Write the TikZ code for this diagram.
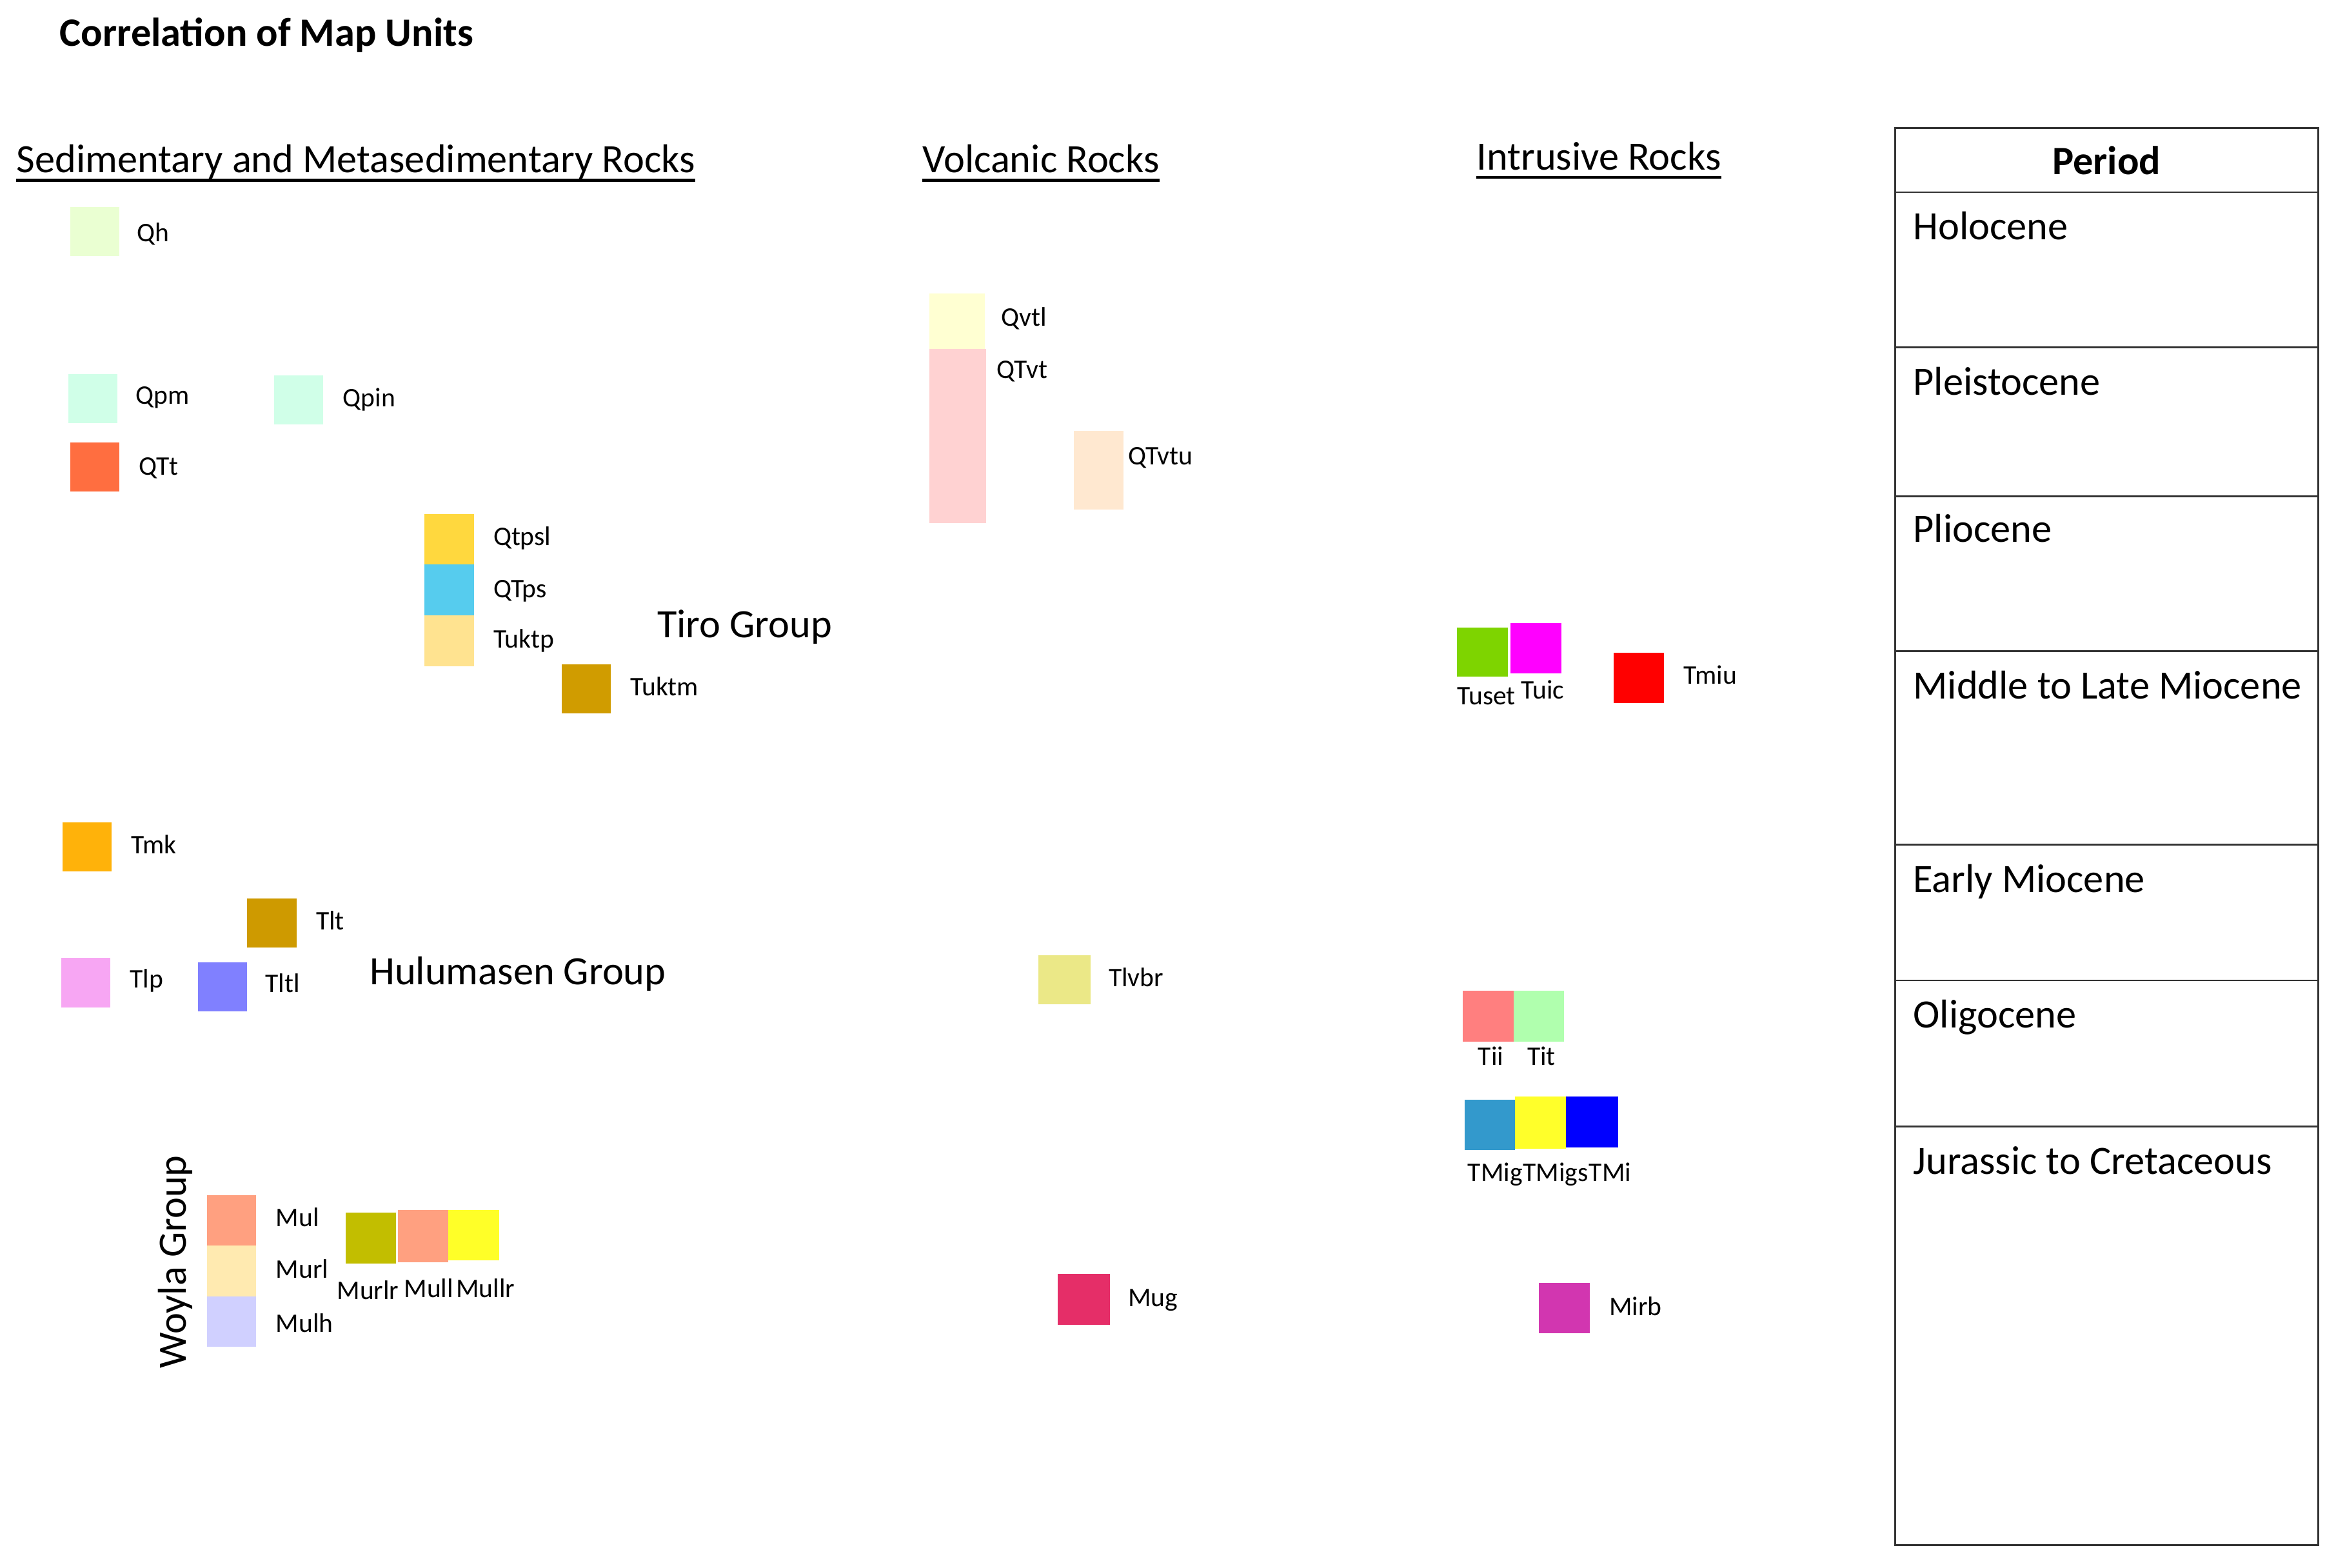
\documentclass[tikz,border=0pt]{standalone}
\usepackage{fontspec}
\setmainfont{Carlito}
\definecolor{cQh}{HTML}{EAFFD2}
\definecolor{cQpm}{HTML}{D0FFE8}
\definecolor{cQTt}{HTML}{FF6E40}
\definecolor{cQtpsl}{HTML}{FFD83E}
\definecolor{cQTps}{HTML}{56CCEE}
\definecolor{cTuktp}{HTML}{FFE390}
\definecolor{cTuktm}{HTML}{D09C00}
\definecolor{cTmk}{HTML}{FFB20A}
\definecolor{cTlt}{HTML}{CE9A00}
\definecolor{cTlp}{HTML}{F7A6F3}
\definecolor{cTltl}{HTML}{8080FF}
\definecolor{cMul}{HTML}{FFA080}
\definecolor{cMurl}{HTML}{FFEAB0}
\definecolor{cMulh}{HTML}{D0D0FF}
\definecolor{cMurlr}{HTML}{C2BE00}
\definecolor{cMullr}{HTML}{FFFF28}
\definecolor{cQvtl}{HTML}{FFFFD2}
\definecolor{cQTvt}{HTML}{FFD2D2}
\definecolor{cQTvtu}{HTML}{FFE8D0}
\definecolor{cTlvbr}{HTML}{EBE887}
\definecolor{cMug}{HTML}{E52E68}
\definecolor{cTuset}{HTML}{7ED400}
\definecolor{cTuic}{HTML}{FF00FF}
\definecolor{cTmiu}{HTML}{FF0000}
\definecolor{cTii}{HTML}{FF7F7F}
\definecolor{cTit}{HTML}{B0FFAE}
\definecolor{cTMig}{HTML}{3399CC}
\definecolor{cTMigs}{HTML}{FFFF2A}
\definecolor{cTMi}{HTML}{0000FF}
\definecolor{cMirb}{HTML}{D236B0}
\definecolor{tline}{HTML}{333333}
\begin{document}
\begin{tikzpicture}[x=1pt,y=-1pt,
  ubox/.style={draw=none,inner sep=0,outer sep=0,anchor=north west},
  ulab/.style={anchor=base west,inner sep=0,font=\fontsize{18}{21}\selectfont},
  grp/.style={anchor=base west,inner sep=0,font=\fontsize{27}{32}\selectfont},
  head/.style={anchor=base west,inner sep=0,font=\fontsize{27}{32}\selectfont},
  per/.style={anchor=base west,inner sep=0,font=\fontsize{27}{32}\selectfont},
  uline/.style={line width=2pt}]
\useasboundingbox (0,0) rectangle (1568,1052);
\fill[white] (0,0) rectangle (1568,1052);

% title and headings
\node[anchor=base west,inner sep=0,font=\fontsize{27}{32}\selectfont\bfseries] (title) at (40,31) {Correlation of Map Units};
\node[head] (sed) at (11,116) {Sedimentary and Metasedimentary Rocks};
\node[head] (volc) at (619,116) {Volcanic Rocks};
\node[head] (intr) at (991,114) {Intrusive Rocks};
\foreach \n in {sed,volc,intr}
  \draw[uline] ([yshift=-5pt]\n.base west) -- ([yshift=-5pt]\n.base east);

% sedimentary units
\node[ubox,fill=cQh,minimum width=33pt,minimum height=33pt] (Qh) at (47,139) {};
\node[ulab] (QhL) at (92,162) {Qh};
\node[ubox,fill=cQpm,minimum width=33pt,minimum height=33pt] (Qpm) at (46,251) {};
\node[ulab] (QpmL) at (91,271) {Qpm};
\node[ubox,fill=cQpm,minimum width=33pt,minimum height=33pt] (Qpin) at (184,252) {};
\node[ulab] (QpinL) at (230,273) {Qpin};
\node[ubox,fill=cQTt,minimum width=33pt,minimum height=33pt] (QTt) at (47,297) {};
\node[ulab] (QTtL) at (93,319) {QTt};
\node[ubox,fill=cQtpsl,minimum width=33pt,minimum height=34pt] (Qtpsl) at (285,345) {};
\node[ulab] (QtpslL) at (331,366) {Qtpsl};
\node[ubox,fill=cQTps,minimum width=33pt,minimum height=34pt] (QTps) at (285,379) {};
\node[ulab] (QTpsL) at (331,401) {QTps};
\node[ubox,fill=cTuktp,minimum width=33pt,minimum height=34pt] (Tuktp) at (285,413) {};
\node[ulab] (TuktpL) at (331,435) {Tuktp};
\node[ubox,fill=cTuktm,minimum width=33pt,minimum height=33pt] (Tuktm) at (377,446) {};
\node[ulab] (TuktmL) at (423,467) {Tuktm};
\node[grp] (tiro) at (441,428) {Tiro Group};

\node[ubox,fill=cTmk,minimum width=33pt,minimum height=33pt] (Tmk) at (42,552) {};
\node[ulab] (TmkL) at (88,573) {Tmk};
\node[ubox,fill=cTlt,minimum width=33pt,minimum height=33pt] (Tlt) at (166,603) {};
\node[ulab] (TltL) at (212,624) {Tlt};
\node[ubox,fill=cTlp,minimum width=33pt,minimum height=33pt] (Tlp) at (41,643) {};
\node[ulab] (TlpL) at (87,663) {Tlp};
\node[ubox,fill=cTltl,minimum width=33pt,minimum height=33pt] (Tltl) at (133,646) {};
\node[ulab] (TltlL) at (178,666) {Tltl};
\node[grp] (hulu) at (248,661) {Hulumasen Group};

\node[ubox,fill=cMul,minimum width=33pt,minimum height=34pt] (Mul) at (139,802) {};
\node[ulab] (MulL) at (185,823) {Mul};
\node[ubox,fill=cMurl,minimum width=33pt,minimum height=34pt] (Murl) at (139,836) {};
\node[ulab] (MurlL) at (185,858) {Murl};
\node[ubox,fill=cMulh,minimum width=33pt,minimum height=34pt] (Mulh) at (139,870) {};
\node[ulab] (MulhL) at (185,894) {Mulh};
\node[ubox,fill=cMurlr,minimum width=34pt,minimum height=34pt] (Murlr) at (232,814) {};
\node[ubox,fill=cMul,minimum width=34pt,minimum height=35pt] (Mull) at (267,812) {};
\node[ubox,fill=cMullr,minimum width=34pt,minimum height=34pt] (Mullr) at (301,812) {};
\node[ulab] (MurlrL) at (226,872) {Murlr};
\node[ulab] (MullL) at (271,871) {Mull};
\node[ulab] (MullrL) at (306,871) {Mullr};
\node[anchor=base,inner sep=0,rotate=90,font=\fontsize{27}{32}\selectfont] (woyla) at (125,847) {Woyla Group};

% volcanic units
\node[ubox,fill=cQvtl,minimum width=37pt,minimum height=37pt] (Qvtl) at (624,197) {};
\node[ulab] (QvtlL) at (672,219) {Qvtl};
\node[ubox,fill=cQTvt,minimum width=38pt,minimum height=117pt] (QTvt) at (624,234) {};
\node[ulab] (QTvtL) at (669,254) {QTvt};
\node[ubox,fill=cQTvtu,minimum width=33pt,minimum height=53pt] (QTvtu) at (721,289) {};
\node[ulab] (QTvtuL) at (757,312) {QTvtu};
\node[ubox,fill=cTlvbr,minimum width=35pt,minimum height=33pt] (Tlvbr) at (697,641) {};
\node[ulab] (TlvbrL) at (744,662) {Tlvbr};
\node[ubox,fill=cMug,minimum width=35pt,minimum height=34pt] (Mug) at (710,855) {};
\node[ulab] (MugL) at (757,877) {Mug};

% intrusive units
\node[ubox,fill=cTuset,minimum width=34pt,minimum height=33pt] (Tuset) at (978,421) {};
\node[ubox,fill=cTuic,minimum width=34pt,minimum height=34pt] (Tuic) at (1014,418) {};
\node[ulab] (TusetL) at (978,473) {Tuset};
\node[ulab] (TuicL) at (1021,469) {Tuic};
\node[ubox,fill=cTmiu,minimum width=34pt,minimum height=34pt] (Tmiu) at (1083,438) {};
\node[ulab] (TmiuL) at (1130,459) {Tmiu};
\node[ubox,fill=cTii,minimum width=34pt,minimum height=34pt] (Tii) at (982,665) {};
\node[ubox,fill=cTit,minimum width=34pt,minimum height=34pt] (Tit) at (1016,665) {};
\node[ulab] (TiiL) at (992,715) {Tii};
\node[ulab] (TitL) at (1025,715) {Tit};
\node[ubox,fill=cTMig,minimum width=34pt,minimum height=34pt] (TMig) at (983,738) {};
\node[ubox,fill=cTMigs,minimum width=34pt,minimum height=35pt] (TMigs) at (1017,736) {};
\node[ubox,fill=cTMi,minimum width=35pt,minimum height=34pt] (TMi) at (1051,736) {};
\node[ulab] (TMigL) at (985,793) {TMig};
\node[ulab] (TMigsL) at (TMigL.base east) {TMigs};
\node[ulab] (TMiL) at (TMigsL.base east) {TMi};
\node[ubox,fill=cMirb,minimum width=34pt,minimum height=34pt] (Mirb) at (1033,861) {};
\node[ulab] (MirbL) at (1080,883) {Mirb};

% period table
\draw[tline,line width=1.5pt] (1272,86) rectangle (1556,1037);
\foreach \yy in {129,233,333,437,567,658,756}
  \draw[tline,line width=1.2pt] (1272,\yy) -- (1556,\yy);
\node[anchor=base,inner sep=0,font=\fontsize{27}{32}\selectfont\bfseries] (period) at (1414,117) {Period};
\node[per] (p1) at (1284,161) {Holocene};
\node[per] (p2) at (1284,265) {Pleistocene};
\node[per] (p3) at (1284,364) {Pliocene};
\node[per] (p4) at (1284,469) {Middle to Late Miocene};
\node[per] (p5) at (1284,599) {Early Miocene};
\node[per] (p6) at (1284,690) {Oligocene};
\node[per] (p7) at (1284,788) {Jurassic to Cretaceous};
\end{tikzpicture}
\end{document}
